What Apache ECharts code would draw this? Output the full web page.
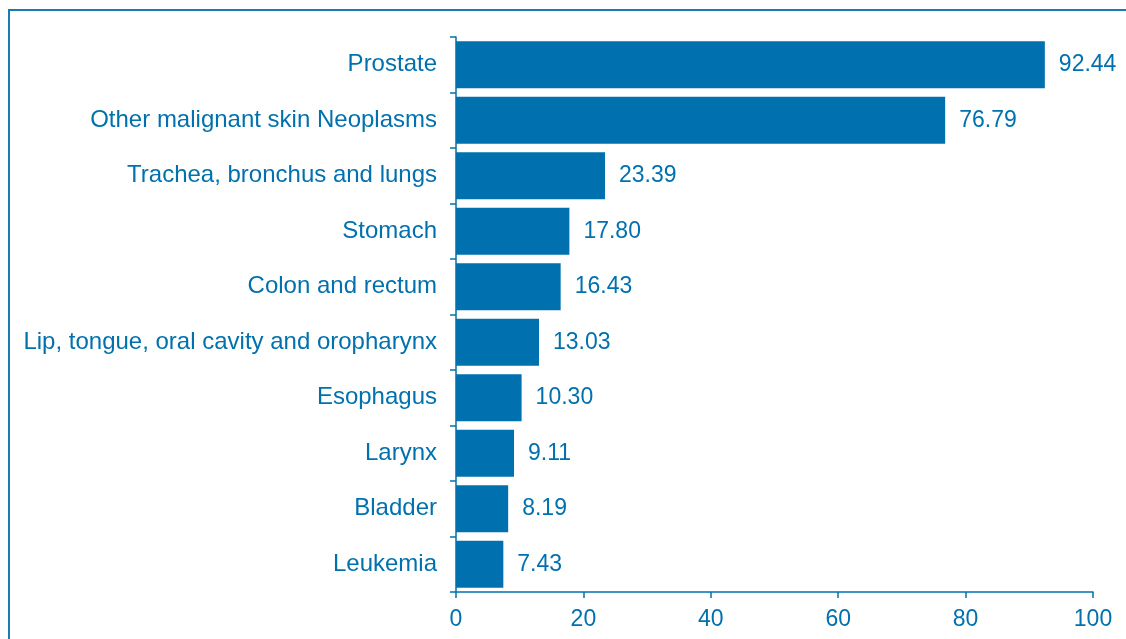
<!DOCTYPE html>
<html>
<head>
<meta charset="utf-8">
<script src="https://cdn.jsdelivr.net/npm/echarts@6/dist/echarts.min.js"></script>
<style>
  html, body { margin: 0; padding: 0; background: #fff; }
  #chart { width: 1126px; height: 639px; }
</style>
</head>
<body>
<div id="chart"></div>
<script>
// categories top to bottom
var categories = [
  'Prostate',
  'Other malignant skin Neoplasms',
  'Trachea, bronchus and lungs',
  'Stomach',
  'Colon and rectum',
  'Lip, tongue, oral cavity and oropharynx',
  'Esophagus',
  'Larynx',
  'Bladder',
  'Leukemia'
]
var values = [92.44, 76.79, 23.39, 17.80, 16.43, 13.03, 10.30, 9.11, 8.19, 7.43]
var xTicks = [0, 20, 40, 60, 80, 100]

var blue = '#0071ae'
var font = '"Liberation Sans", Arial, sans-serif'

var chart = echarts.init(document.getElementById('chart'))
chart.setOption({
  animation: false,
  textStyle: { fontFamily: font },
  graphic: [{
    type: 'rect',
    shape: { x: 9, y: 10, width: 1200, height: 700 },
    style: { fill: 'none', stroke: '#1a7ab3', lineWidth: 2 },
    silent: true
  }],
  grid: { left: 456, top: 37, right: 33, bottom: 47, containLabel: false },
  xAxis: {
    type: 'value',
    min: xTicks[0],
    max: xTicks[xTicks.length - 1],
    interval: 20,
    splitLine: { show: false },
    axisLine: { show: true, lineStyle: { color: blue, width: 1.5 } },
    axisTick: { show: true, length: 6, lineStyle: { color: blue, width: 1.5 } },
    axisLabel: { color: blue, fontSize: 23, margin: 16, fontFamily: font }
  },
  yAxis: {
    type: 'category',
    inverse: true,
    data: categories,
    axisLine: { show: true, lineStyle: { color: blue, width: 1.5 } },
    axisTick: { show: true, length: 6, lineStyle: { color: blue, width: 1.5 } },
    axisLabel: { color: blue, fontSize: 24, margin: 19, fontFamily: font }
  },
  series: [{
    type: 'bar',
    data: values,
    barCategoryGap: '15%',
    itemStyle: { color: blue },
    label: {
      show: true,
      position: 'right',
      distance: 14,
      color: blue,
      fontSize: 23,
      fontFamily: font,
      formatter: function (p) { return p.value.toFixed(2) }
    }
  }]
})
</script>
</body>
</html>
